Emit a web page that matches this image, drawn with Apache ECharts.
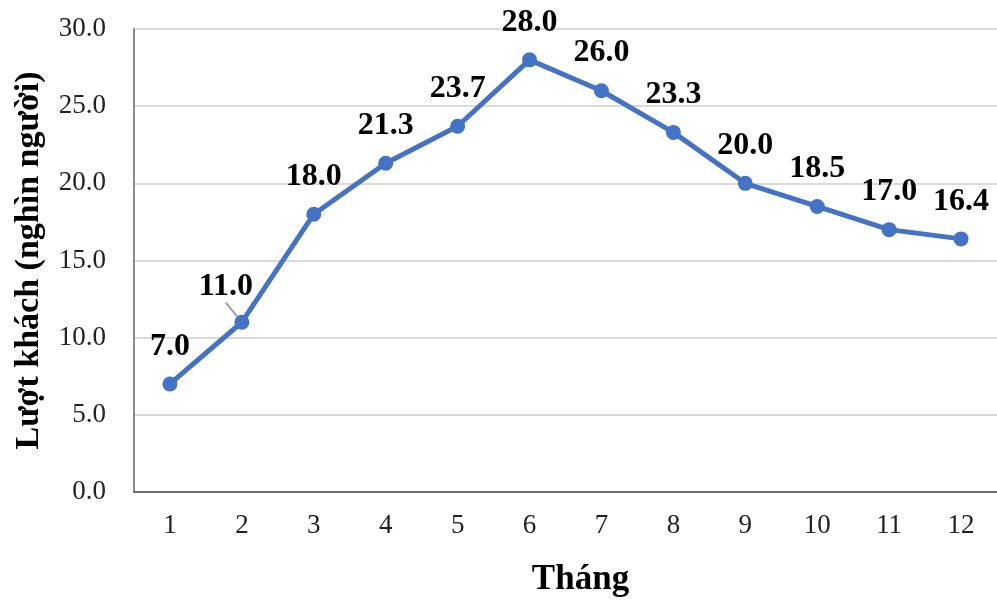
<!DOCTYPE html>
<html>
<head>
<meta charset="utf-8">
<script src="https://cdn.jsdelivr.net/npm/echarts@6/dist/echarts.min.js"></script>
<style>
  html, body { margin: 0; padding: 0; background: #fff; }
  #chart { width: 997px; height: 609px; }
</style>
</head>
<body>
<div id="chart"></div>
<script>
// Monthly visitors (thousand people)
const months = ['1', '2', '3', '4', '5', '6', '7', '8', '9', '10', '11', '12'];
const visitors = [7.0, 11.0, 18.0, 21.3, 23.7, 28.0, 26.0, 23.3, 20.0, 18.5, 17.0, 16.4];
const yTicks = [0, 5, 10, 15, 20, 25, 30];

const FONT = '"Liberation Serif", "Times New Roman", serif';
const chart = echarts.init(document.getElementById('chart'));

// Month 2's label is nudged left and tied to its point with a short leader line
const seriesData = visitors.map((v, i) => (i === 1
  ? { value: v, labelLine: { show: true, length2: 0, lineStyle: { color: '#a0a0a0', width: 2 } } }
  : { value: v }));

chart.setOption({
  animation: false,
  backgroundColor: '#ffffff',
  grid: { left: 134, right: 0, top: 29, bottom: 117, containLabel: false },
  xAxis: {
    type: 'category',
    data: months,
    boundaryGap: true,
    name: 'Tháng',
    nameLocation: 'middle',
    nameGap: 70,
    nameTextStyle: { fontFamily: FONT, fontWeight: 'bold', fontSize: 35, color: '#000', padding: [0, 0, 0, 30] },
    axisLine: { lineStyle: { color: '#6f6f6f', width: 2 } },
    axisTick: { show: false },
    axisLabel: { fontFamily: FONT, fontSize: 27, color: '#222', margin: 20 }
  },
  yAxis: {
    type: 'value',
    min: yTicks[0],
    max: yTicks[yTicks.length - 1],
    interval: 5,
    name: 'Lượt khách (nghìn người)',
    nameLocation: 'middle',
    nameGap: 88,
    nameRotate: 90,
    nameTextStyle: { fontFamily: FONT, fontWeight: 'bold', fontSize: 34, color: '#000' },
    axisLine: { show: true, lineStyle: { color: '#8a8a8a', width: 2 } },
    axisTick: { show: false },
    axisLabel: {
      fontFamily: FONT, fontSize: 27, color: '#222', margin: 28,
      formatter: v => v.toFixed(1)
    },
    splitLine: { lineStyle: { color: '#d9d9d9', width: 2 } }
  },
  series: [{
    type: 'line',
    data: seriesData,
    symbol: 'circle',
    symbolSize: 15,
    itemStyle: { color: '#4472C4' },
    lineStyle: { color: '#4472C4', width: 5 },
    label: {
      show: true,
      position: 'top',
      distance: 14,
      fontFamily: FONT,
      fontWeight: 'bold',
      fontSize: 32,
      color: '#000',
      formatter: p => p.value.toFixed(1)
    },
    labelLine: { show: false },
    labelLayout: p => (p.dataIndex === 1 ? { dx: -16, dy: 2 } : {})
  }]
});
</script>
</body>
</html>
